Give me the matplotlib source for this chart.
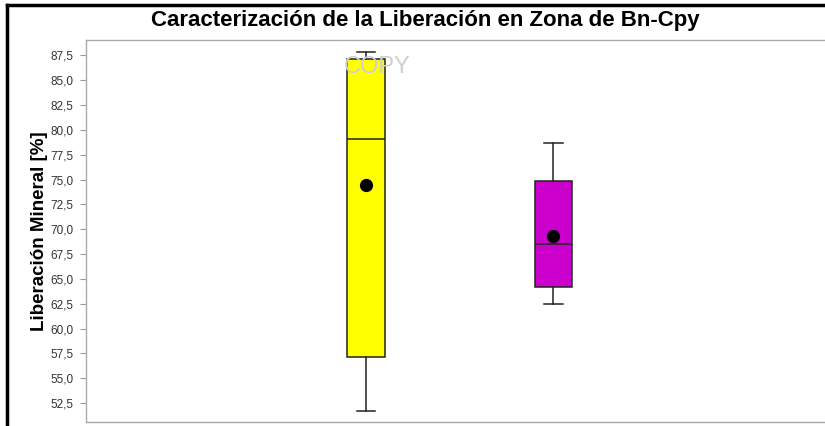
import matplotlib.pyplot as plt
import numpy as np
from matplotlib.lines import Line2D
from matplotlib.ticker import FuncFormatter

# datos
zonas = ["Bn", "Cpy"]
whisker_low = [51.7, 62.5]
q1 = [57.1, 64.2]
medianas = [79.1, 68.55]
q3 = [87.1, 74.85]
whisker_high = [87.9, 78.7]
medias = [74.45, 69.3]
colores = ["#ffff00", "#cc00cc"]
posiciones = [1, 2]
yticks = np.arange(52.5, 87.6, 2.5)

plt.rcParams['font.family'] = ['Liberation Sans', 'DejaVu Sans']

fig = plt.figure(figsize=(8.25, 4.26), dpi=100)
ax = fig.add_axes([86 / 825, 4 / 426, 1 - 86 / 825, 382 / 426])

stats = []
for i in range(len(zonas)):
    stats.append({
        "label": zonas[i],
        "whislo": whisker_low[i],
        "q1": q1[i],
        "med": medianas[i],
        "q3": q3[i],
        "whishi": whisker_high[i],
        "mean": medias[i],
    })

bp = ax.bxp(stats, positions=posiciones, widths=0.2, patch_artist=True,
            showmeans=True, showfliers=False,
            boxprops=dict(edgecolor="#222222", linewidth=1.1),
            medianprops=dict(color="#222222", linewidth=1.1),
            whiskerprops=dict(color="#222222", linewidth=1.1),
            capprops=dict(color="#222222", linewidth=1.1),
            meanprops=dict(marker="o", markerfacecolor="black",
                           markeredgecolor="black", markersize=8.5))
for patch, c in zip(bp["boxes"], colores):
    patch.set_facecolor(c)

ax.set_xlim(-0.493, 3.448)
ax.set_ylim(50.59, 89.06)
ax.set_xticks([])
ax.set_yticks(yticks)
ax.yaxis.set_major_formatter(FuncFormatter(lambda v, p: f"{v:.1f}".replace(".", ",")))
ax.tick_params(axis="y", length=4, color="#999999", labelsize=8.5, labelcolor="#333333", pad=5)

for s in ["top", "bottom", "left"]:
    ax.spines[s].set_color("#aaaaaa")
    ax.spines[s].set_linewidth(1.0)
ax.spines["right"].set_visible(False)

ax.set_ylabel("Liberación Mineral [%]", fontsize=13.5, fontweight="bold", labelpad=2)

# marca de agua
ax.text(1.06, 86.3, "COPY", fontsize=17, color="#cfcfcf", ha="center", va="center")

fig.text(0.516, 0.951, "Caracterización de la Liberación en Zona de Bn-Cpy",
         ha="center", va="center", fontsize=16, fontweight="bold")

# marco negro
fig.add_artist(Line2D([7 / 825, 1], [1 - 5 / 426, 1 - 5 / 426], color="black", linewidth=2.5))
fig.add_artist(Line2D([7 / 825, 7 / 825], [0, 1 - 5 / 426], color="black", linewidth=2.5))

fig.savefig("out.png", dpi=100)
